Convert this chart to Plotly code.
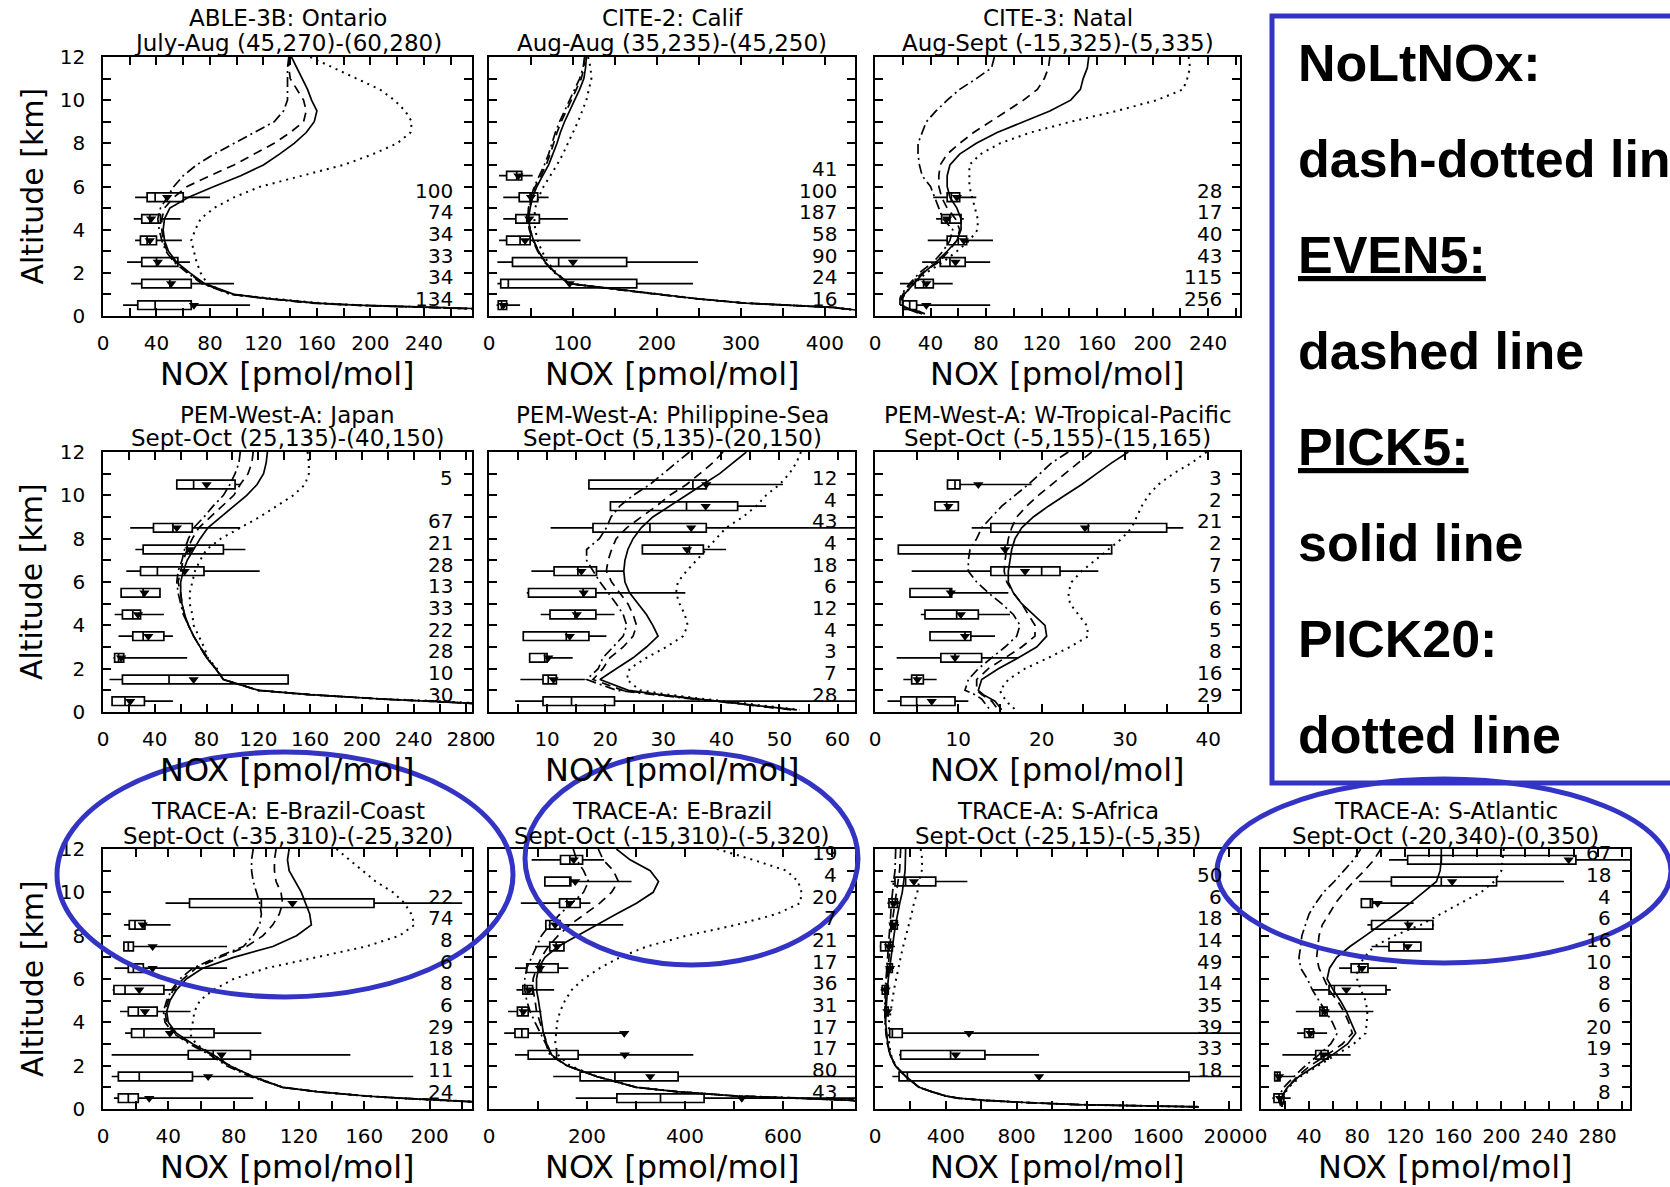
import plotly.graph_objects as go

W, H = 1670, 1187
FONT = "DejaVu Sans"
BLUE = "#3434C4"

# Model altitude levels (km), top to bottom
ALT_LEVELS = [12, 11.5, 11, 10.5, 10, 9.5, 9, 8.5, 8, 7.5, 7, 6.5, 6, 5.5, 5,
              4.5, 4, 3.5, 3, 2.5, 2, 1.5, 1, 0.8, 0.6, 0.5, 0.4, 0.3, 0.2, 0.1]

# ---------------- ABLE-3B: Ontario ----------------
ONT_NOLT = [139, 138, 138, 138, 138, 135, 128, 113, 98, 83, 70, 60, 53, 48, 43, 41, 42, 44, 47, 53, 63, 74, 96, 122, 156, 187, 246, 330, 350, 350]
ONT_EVEN5 = [139, 139, 140, 145, 150, 152, 150, 140, 128, 113, 98, 80, 63, 53, 46, 44, 44, 45, 48, 54, 64, 75, 97, 124, 158, 189, 248, 330, 350, 350]
ONT_PICK5 = [141, 145, 149, 153, 156, 160, 158, 152, 143, 132, 120, 103, 83, 64, 50, 46, 45, 46, 49, 55, 65, 76, 98, 125, 160, 190, 250, 330, 350, 350]
ONT_PICK20 = [155, 172, 190, 207, 218, 226, 231, 230, 220, 202, 180, 148, 118, 98, 83, 73, 69, 66, 68, 70, 73, 78, 95, 126, 162, 192, 252, 330, 350, 350]
ONT_BINS = [5.5, 4.5, 3.5, 2.5, 1.5, 0.5]
ONT_LO = [24, 23, 24, 18, 21, 15]
ONT_Q1 = [33, 29, 28, 29, 29, 26]
ONT_MED = [39, 35, 33, 40, 50, 39]
ONT_Q3 = [60, 43, 40, 56, 66, 66]
ONT_HI = [80, 58, 59, 65, 98, 110]
ONT_MEAN = [48, 36, 35, 41, 51, 68]
ONT_N = ["100", "74", "34", "33", "34", "134"]

# ---------------- CITE-2: Calif ----------------
CAL_NOLT = [114, 112, 108, 102, 96, 90, 84, 79, 75, 71, 66, 60, 54, 50, 47, 46, 48, 52, 58, 66, 78, 95, 198, 246, 303, 360, 408, 430, 450, 450]
CAL_EVEN5 = [114, 113, 110, 104, 98, 92, 86, 81, 77, 73, 68, 62, 55, 51, 48, 47, 49, 53, 59, 67, 79, 96, 200, 248, 305, 362, 410, 432, 450, 450]
CAL_PICK5 = [116, 115, 113, 108, 102, 96, 90, 85, 81, 76, 71, 64, 57, 52, 49, 47, 49, 53, 59, 67, 79, 96, 200, 248, 305, 362, 410, 432, 450, 450]
CAL_PICK20 = [118, 121, 122, 119, 116, 111, 106, 100, 94, 88, 81, 73, 65, 59, 55, 54, 55, 58, 63, 70, 80, 96, 200, 248, 305, 362, 410, 432, 450, 450]
CAL_BINS = [6.5, 5.5, 4.5, 3.5, 2.5, 1.5, 0.5]
CAL_LO = [12, 17, 17, 12, 10, 10, 9]
CAL_Q1 = [21, 36, 32, 21, 28, 14, 11]
CAL_MED = [33, 49, 45, 37, 83, 23, 15]
CAL_Q3 = [39, 58, 60, 49, 164, 176, 21]
CAL_HI = [52, 71, 94, 109, 249, 243, 37]
CAL_MEAN = [35, 50, 48, 43, 100, 96, 17]
CAL_N = ["41", "100", "187", "58", "90", "24", "16"]

# ---------------- CITE-3: Natal ----------------
NAT_NOLT = [86, 84, 73, 61, 52, 44, 37, 34, 31, 31, 32, 34, 40, 43, 46, 49, 56, 54, 49, 42, 32, 25, 19, 18, 18, 18, 20, 24, 29, 33]
NAT_EVEN5 = [126, 125, 122, 117, 107, 95, 83, 71, 61, 52, 47, 46, 46, 48, 52, 58, 61, 59, 53, 46, 34, 26, 20, 19, 19, 19, 21, 25, 30, 34]
NAT_PICK5 = [154, 153, 150, 148, 141, 126, 107, 88, 73, 61, 54, 52, 52, 54, 59, 62, 62, 59, 52, 44, 35, 28, 21, 20, 20, 20, 22, 26, 32, 36]
NAT_PICK20 = [226, 227, 225, 222, 203, 174, 141, 112, 90, 76, 68, 68, 68, 70, 72, 74, 74, 68, 59, 49, 37, 28, 21, 20, 20, 20, 22, 26, 32, 36]
NAT_BINS = [5.5, 4.5, 3.5, 2.5, 1.5, 0.5]
NAT_LO = [42, 44, 38, 34, 18, 18]
NAT_Q1 = [52, 48, 52, 47, 29, 20]
NAT_MED = [55, 54, 60, 54, 35, 25]
NAT_Q3 = [61, 62, 66, 65, 42, 30]
NAT_HI = [73, 64, 85, 83, 56, 83]
NAT_MEAN = [59, 52, 64, 58, 37, 37]
NAT_N = ["28", "17", "40", "43", "115", "256"]

# ---------------- PEM-West-A: Japan ----------------
JPN_NOLT = [106, 105, 102, 98, 93, 85, 78, 70, 66, 63, 61, 58, 57, 58, 60, 62, 66, 70, 75, 81, 87, 93, 120, 160, 215, 260, 300, 320, 330, 330]
JPN_EVEN5 = [116, 115, 112, 106, 101, 92, 83, 74, 69, 65, 62, 60, 58, 60, 61, 63, 66, 70, 75, 80, 87, 93, 120, 160, 215, 260, 300, 320, 330, 330]
JPN_PICK5 = [127, 126, 124, 119, 111, 101, 91, 81, 75, 70, 65, 62, 60, 60, 61, 63, 66, 70, 75, 80, 87, 93, 120, 160, 215, 260, 300, 320, 330, 330]
JPN_PICK20 = [158, 159, 159, 156, 147, 134, 121, 106, 91, 80, 75, 71, 69, 67, 67, 69, 70, 74, 78, 81, 88, 93, 120, 160, 215, 260, 300, 320, 330, 330]
JPN_BINS = [10.5, 8.5, 7.5, 6.5, 5.5, 4.5, 3.5, 2.5, 1.5, 0.5]
JPN_LO = [57, 21, 25, 18, 14, 9, 12, 8, 5, 7]
JPN_Q1 = [57, 39, 31, 29, 14, 15, 23, 9, 15, 7]
JPN_MED = [70, 54, 65, 42, 31, 23, 31, 12, 51, 17]
JPN_Q3 = [102, 69, 93, 78, 44, 29, 47, 16, 143, 32]
JPN_HI = [106, 106, 110, 121, 44, 47, 54, 65, 143, 54]
JPN_MEAN = [80, 57, 67, 63, 32, 27, 35, 14, 70, 21]
JPN_N = ["5", "67", "21", "28", "13", "33", "22", "28", "10", "30"]

# ---------------- PEM-West-A: Philippine-Sea ----------------
PHS_NOLT = [34.5, 32.2, 30, 27.7, 24.8, 22.5, 21, 20.2, 19, 16.8, 16.8, 17.9, 19.1, 20.5, 21.9, 23.1, 23.7, 23.1, 21.4, 19.6, 18.8, 16.8, 22, 28, 35, 39, 42, 45, 49, 52]
PHS_EVEN5 = [40.3, 38.5, 36.3, 34, 31.1, 28.8, 26.2, 23.7, 21.9, 21.1, 20.5, 20.2, 21.1, 22.5, 23.9, 24.8, 25.4, 24.8, 23.1, 20.8, 19.6, 17.9, 23, 29, 35.5, 39.5, 42.5, 45.5, 49.5, 52.5]
PHS_PICK5 = [44.3, 42, 39.7, 36.8, 34, 31.1, 28.2, 26.2, 24.8, 23.9, 23.4, 23.2, 23.4, 24.2, 25.7, 27.1, 28.2, 29.1, 27.1, 24.8, 21.9, 19.1, 24, 29.5, 36, 40, 43, 46, 50, 53]
PHS_PICK20 = [53.7, 52.9, 51.7, 50, 47.7, 46, 43.7, 40.8, 39.1, 37.4, 35.7, 34, 32.5, 32.2, 32.8, 33.7, 34.2, 33.4, 30.5, 27.1, 24.2, 23.7, 26, 31, 37, 41, 44, 47, 50.5, 53.5]
PHS_BINS = [10.5, 9.5, 8.5, 7.5, 6.5, 5.5, 4.5, 3.5, 2.5, 1.5, 0.5]
PHS_LO = [17.1, 20.8, 10.6, 26.4, 7.3, 6.5, 8.9, 5.9, 7.0, 5.4, 4.5]
PHS_Q1 = [17.2, 20.9, 17.9, 26.4, 11.2, 6.8, 10.5, 5.9, 7.0, 9.3, 9.3]
PHS_MED = [35.1, 34.0, 27.7, 34.5, 15.3, 16.2, 14.8, 13.3, 9.6, 10.2, 14.2]
PHS_Q3 = [37.4, 42.8, 37.4, 36.9, 18.5, 18.4, 18.4, 17.2, 10.0, 11.6, 21.6]
PHS_HI = [50.6, 47.7, 70, 40.8, 23.1, 33.8, 21.6, 20.2, 14.4, 16.5, 70]
PHS_MEAN = [37.4, 37.3, 34.8, 34.1, 15.9, 16.3, 15.1, 13.9, 10.2, 11.1, None]
PHS_N = ["12", "4", "43", "4", "18", "6", "12", "4", "3", "7", "28"]

# ---------------- PEM-West-A: W-Tropical-Pacific ----------------
WTP_NOLT = [23.2, 21.2, 19.8, 18.4, 16.8, 15.2, 14, 12.8, 12.2, 11.4, 11.2, 11.2, 12.2, 13.6, 15.2, 16.6, 17.4, 17, 15.6, 14, 12.4, 11.2, 10.8, 12, 12.8, 13, 13.2, 13.4, 13.6, 13.8]
WTP_EVEN5 = [26, 24.4, 22.8, 21.2, 19.6, 18.2, 17, 16.4, 16, 15.8, 15.6, 15.5, 15.8, 16.6, 17.6, 18.4, 19.2, 19.2, 17.6, 15.6, 13.6, 12.2, 12.2, 12.8, 13.6, 14, 14.2, 14.4, 14.6, 14.8]
WTP_PICK5 = [30.4, 28.4, 26.6, 24.8, 22.8, 20.8, 19, 17.6, 16.8, 16.4, 16.2, 16, 16, 16.6, 17.6, 19, 20.4, 20.6, 19.4, 17.2, 14.8, 12.8, 12.4, 13, 14, 14.4, 14.6, 14.8, 15, 15.2]
WTP_PICK20 = [39.8, 38, 35.8, 34, 32.8, 32, 31.4, 30.8, 29.6, 28, 26.4, 24.8, 23.6, 23.2, 23.4, 24.4, 25.4, 25.6, 23.4, 20.8, 18, 16, 15, 15.2, 15.6, 15.8, 16, 16.4, 16.6, 16.8]
WTP_BINS = [10.5, 9.5, 8.5, 7.5, 6.5, 5.5, 4.5, 3.5, 2.5, 1.5, 0.5]
WTP_LO = [8.7, 7.2, 11.6, 2.8, 4.4, 4.2, 5.5, 6.6, 2.6, 3.4, 1.5]
WTP_Q1 = [8.7, 7.2, 13.9, 2.8, 13.9, 4.2, 6.0, 6.6, 7.9, 4.4, 3.1]
WTP_MED = [9.6, 8.6, 25.6, 15.6, 20.0, 9.0, 9.8, 10.8, 9.6, 5.0, 5.0]
WTP_Q3 = [10.2, 10.0, 35.0, 28.4, 22.2, 9.2, 12.4, 11.5, 12.8, 5.8, 9.6]
WTP_HI = [18.8, 10.0, 37.0, 28.4, 26.8, 16.0, 16.2, 14.4, 17.2, 7.4, 11.2]
WTP_MEAN = [12.4, 8.8, 25.2, 15.6, 18.0, 9.1, 10.3, 10.8, 9.6, 5.1, 6.8]
WTP_N = ["3", "2", "21", "2", "7", "5", "6", "5", "8", "16", "29"]

# ---------------- TRACE-A: E-Brazil-Coast ----------------
EBC_NOLT = [92, 91, 91, 92, 94, 96, 97, 96, 92, 86, 69.5, 55, 47, 42, 39, 37, 38, 43, 53, 65.4, 75.6, 90, 110, 131, 161, 182, 212, 240, 260, 260]
EBC_EVEN5 = [106, 105, 105, 106, 109, 110, 108, 104, 98, 88, 71.6, 57, 49, 43, 40, 38, 39, 44, 54, 66.5, 77, 91, 110, 131, 161, 182, 212, 240, 260, 260]
EBC_PICK5 = [114, 113, 114, 118, 121.5, 124, 126.6, 127.6, 118.5, 104, 80, 61, 51, 45, 41, 39, 40, 45, 55, 67.5, 77.7, 92, 110, 131, 161, 182, 212, 240, 260, 260]
EBC_PICK20 = [143, 151, 159, 167, 177.6, 184.7, 188.8, 190.8, 181.6, 161, 130.7, 100, 80, 67.5, 59.3, 56, 55, 53, 57, 67.5, 77.7, 92, 110, 131, 161, 182, 212, 240, 260, 260]
EBC_BINS = [9.5, 8.5, 7.5, 6.5, 5.5, 4.5, 3.5, 2.5, 1.5, 0.5]
EBC_LO = [38.3, 12.8, 12.8, 7, 5.9, 10.4, 13.5, 5.3, 5.3, 6.7]
EBC_Q1 = [53, 16.1, 12.8, 15.5, 6.7, 15.5, 17.5, 52.2, 9.4, 9.4]
EBC_MED = [97, 19.6, 15.5, 18.6, 13.5, 21.6, 25.1, 67.5, 22.2, 15.5]
EBC_Q3 = [166, 25.7, 18.6, 24.7, 37.3, 33.2, 68, 90.3, 54.8, 21.6]
EBC_HI = [220, 41.4, 76, 76, 45, 53.6, 97, 151.5, 190, 92]
EBC_MEAN = [116, 24.3, 30.4, 30.4, 22.2, 25.7, 41, 72.6, 64.4, 28.3]
EBC_N = ["22", "74", "8", "6", "8", "6", "29", "18", "11", "24"]

# ---------------- TRACE-A: E-Brazil ----------------
EBR_NOLT = [172, 179, 193, 203, 193, 169, 145, 124, 107, 97, 87, 77, 73, 73, 77, 84, 94, 105, 116, 124, 159, 220, 301, 383, 505, 641, 743, 760, 800, 800]
EBR_EVEN5 = [223, 233, 254, 264, 250, 226, 196, 165, 141, 121, 107, 97, 90, 90, 94, 97, 104, 111, 118, 126, 159, 220, 301, 383, 505, 641, 743, 760, 800, 800]
EBR_PICK5 = [260, 288, 329, 346, 335, 301, 260, 220, 179, 141, 114, 101, 97, 97, 101, 104, 107, 111, 118, 128, 159, 220, 301, 383, 505, 641, 743, 760, 800, 800]
EBR_PICK20 = [465, 539, 607, 631, 638, 635, 587, 505, 403, 322, 267, 226, 193, 169, 155, 145, 139, 137, 135, 141, 165, 220, 301, 383, 505, 641, 743, 760, 800, 800]
EBR_BINS = [11.5, 10.5, 9.5, 8.5, 7.5, 6.5, 5.5, 4.5, 3.5, 2.5, 1.5, 0.5]
EBR_LO = [87, 114, 65, 116, 94, 53, 56, 39, 31, 53, 131, 177]
EBR_Q1 = [146, 114, 144, 116, 124, 77, 69, 58, 53, 80, 186, 261]
EBR_MED = [165, 165, 159, 124, 137, 107, 78, 67, 67, 138, 257, 350]
EBR_Q3 = [191, 167, 186, 145, 153, 141, 89, 80, 80, 182, 386, 439]
EBR_HI = [235, 291, 207, 274, 153, 162, 133, 107, 281, 417, 800, 800]
EBR_MEAN = [173, 176, 165, 135, 139, 104, 82, 70, 276, 277, 329, 516]
EBR_N = ["19", "4", "20", "7", "21", "17", "36", "31", "17", "17", "80", "43"]

# ---------------- TRACE-A: S-Africa ----------------
SAF_NOLT = [117, 115, 113, 105, 98, 93, 89, 84, 79, 74, 70, 65, 60, 58, 56, 56, 56, 62, 70, 85, 113, 173, 248, 318, 398, 468, 618, 848, 1148, 1828]
SAF_EVEN5 = [145, 142, 139, 130, 121, 111, 102, 95, 89, 84, 79, 74, 70, 65, 60, 59, 58, 64, 71, 86, 114, 174, 249, 319, 399, 469, 619, 849, 1149, 1829]
SAF_PICK5 = [173, 172, 170, 162, 154, 140, 126, 116, 107, 98, 89, 82, 75, 70, 64, 62, 60, 66, 72, 87, 115, 175, 250, 320, 400, 470, 620, 850, 1150, 1830]
SAF_PICK20 = [258, 267, 264, 249, 239, 220, 207, 190, 173, 159, 145, 131, 117, 107, 98, 89, 79, 78, 80, 90, 116, 175, 250, 320, 400, 470, 620, 850, 1150, 1830]
SAF_BINS = [10.5, 9.5, 8.5, 7.5, 6.5, 5.5, 4.5, 3.5, 2.5, 1.5]
SAF_LO = [89, 70, 79, 26, 60, 32, 51, 83, 136, 98]
SAF_Q1 = [113, 79, 89, 32, 70, 41, 56, 83, 145, 136]
SAF_MED = [173, 98, 98, 60, 83, 56, 64, 98, 427, 183]
SAF_Q3 = [343, 126, 126, 98, 98, 75, 75, 154, 621, 1774]
SAF_HI = [522, 136, 136, 113, 107, 79, 79, 2100, 927, 2100]
SAF_MEAN = [220, 107, 104, 79, 85, 60, 70, 531, 456, 927]
SAF_N = ["50", "6", "18", "14", "49", "14", "35", "39", "33", "18"]

# ---------------- TRACE-A: S-Atlantic ----------------
SAT_NOLT = [83, 77, 69, 61, 52, 45.5, 40, 37, 34, 33, 31.6, 33, 38.6, 42.7, 48.3, 54, 59.4, 63.5, 58, 48, 37, 27.5, 19, 17, 15.5, 15, 15.2, 15.6, 16, 16.4]
SAT_EVEN5 = [99.6, 94, 86, 77, 69, 62, 56.6, 51, 48.3, 47, 46.3, 48.3, 52.4, 56.6, 63.5, 69, 73, 76, 67.7, 55, 41, 30, 22, 19.5, 17.5, 16.6, 16.6, 16.8, 17, 17.2]
SAT_PICK5 = [150, 150, 149, 146, 135, 124, 112, 100, 87, 74, 63, 57, 55, 60, 66, 71, 74.6, 78.8, 72, 59.4, 45.5, 31.6, 22, 20, 18, 17, 17, 17.4, 17.5, 17.8]
SAT_PICK20 = [202, 201, 200, 194, 183, 166, 150, 133, 111, 94, 86, 80, 80, 83, 87, 88.5, 88, 87, 77, 62, 47, 33, 23, 20.5, 18.5, 17.8, 17.8, 18, 18.2, 18.4]
SAT_BINS = [11.5, 10.5, 9.5, 8.5, 7.5, 6.5, 5.5, 4.5, 3.5, 2.5, 1.5, 0.5]
SAT_LO = [106.5, 81.6, 83.5, 88.5, 92, 65, 42.7, 29, 30, 17.8, 10.8, 9.4]
SAT_Q1 = [122, 108.5, 83.5, 92, 106.5, 75, 56.6, 49, 36.3, 45.5, 11.4, 10.8]
SAT_MED = [150, 150, 91, 122, 119, 81.6, 61, 51, 40, 50, 13.6, 15]
SAT_Q3 = [262, 196, 92.7, 143, 133, 89, 104, 55, 43.6, 55.8, 15.8, 19]
SAT_HI = [320, 252, 127, 144, 133, 113, 108, 93.5, 55, 74.6, 27.5, 24.7]
SAT_MEAN = [256, 159, 97, 123, 122, 84, 71, 53, 41, 52, 15, 15.8]
SAT_N = ["67", "18", "4", "6", "16", "10", "8", "6", "20", "19", "3", "8"]

LEGEND_LINES = ["NoLtNOx:", "dash-dotted line", "EVEN5:", "dashed line",
                "PICK5:", "solid line", "PICK20:", "dotted line"]
LEGEND_UNDERLINED = {"EVEN5:", "PICK5:"}

# Panel layout in pixels: column x-extents and row y-extents
COL_X = [(103, 472), (489, 855), (875, 1240), (1261, 1630)]
ROW_Y = [(57, 316), (452, 712), (849, 1109)]

PANELS = [
    dict(t1="ABLE-3B: Ontario", t2="July-Aug (45,270)-(60,280)", row=0, col=0, xmax=276, dt=40, mdt=20,
         prof=(ONT_NOLT, ONT_EVEN5, ONT_PICK5, ONT_PICK20),
         box=(ONT_BINS, ONT_LO, ONT_Q1, ONT_MED, ONT_Q3, ONT_HI, ONT_MEAN, ONT_N)),
    dict(t1="CITE-2: Calif", t2="Aug-Aug (35,235)-(45,250)", row=0, col=1, xmax=436, dt=100, mdt=50,
         prof=(CAL_NOLT, CAL_EVEN5, CAL_PICK5, CAL_PICK20),
         box=(CAL_BINS, CAL_LO, CAL_Q1, CAL_MED, CAL_Q3, CAL_HI, CAL_MEAN, CAL_N)),
    dict(t1="CITE-3: Natal", t2="Aug-Sept (-15,325)-(5,335)", row=0, col=2, xmax=263, dt=40, mdt=20,
         prof=(NAT_NOLT, NAT_EVEN5, NAT_PICK5, NAT_PICK20),
         box=(NAT_BINS, NAT_LO, NAT_Q1, NAT_MED, NAT_Q3, NAT_HI, NAT_MEAN, NAT_N)),
    dict(t1="PEM-West-A: Japan", t2="Sept-Oct (25,135)-(40,150)", row=1, col=0, xmax=285, dt=40, mdt=20,
         prof=(JPN_NOLT, JPN_EVEN5, JPN_PICK5, JPN_PICK20),
         box=(JPN_BINS, JPN_LO, JPN_Q1, JPN_MED, JPN_Q3, JPN_HI, JPN_MEAN, JPN_N)),
    dict(t1="PEM-West-A: Philippine-Sea", t2="Sept-Oct (5,135)-(20,150)", row=1, col=1, xmax=63, dt=10, mdt=5,
         prof=(PHS_NOLT, PHS_EVEN5, PHS_PICK5, PHS_PICK20),
         box=(PHS_BINS, PHS_LO, PHS_Q1, PHS_MED, PHS_Q3, PHS_HI, PHS_MEAN, PHS_N)),
    dict(t1="PEM-West-A: W-Tropical-Pacific", t2="Sept-Oct (-5,155)-(15,165)", row=1, col=2, xmax=43.8, dt=10, mdt=5,
         prof=(WTP_NOLT, WTP_EVEN5, WTP_PICK5, WTP_PICK20),
         box=(WTP_BINS, WTP_LO, WTP_Q1, WTP_MED, WTP_Q3, WTP_HI, WTP_MEAN, WTP_N)),
    dict(t1="TRACE-A: E-Brazil-Coast", t2="Sept-Oct (-35,310)-(-25,320)", row=2, col=0, xmax=226, dt=40, mdt=20,
         prof=(EBC_NOLT, EBC_EVEN5, EBC_PICK5, EBC_PICK20),
         box=(EBC_BINS, EBC_LO, EBC_Q1, EBC_MED, EBC_Q3, EBC_HI, EBC_MEAN, EBC_N)),
    dict(t1="TRACE-A: E-Brazil", t2="Sept-Oct (-15,310)-(-5,320)", row=2, col=1, xmax=747, dt=200, mdt=100,
         prof=(EBR_NOLT, EBR_EVEN5, EBR_PICK5, EBR_PICK20),
         box=(EBR_BINS, EBR_LO, EBR_Q1, EBR_MED, EBR_Q3, EBR_HI, EBR_MEAN, EBR_N)),
    dict(t1="TRACE-A: S-Africa", t2="Sept-Oct (-25,15)-(-5,35)", row=2, col=2, xmax=2062, dt=400, mdt=200,
         prof=(SAF_NOLT, SAF_EVEN5, SAF_PICK5, SAF_PICK20),
         box=(SAF_BINS, SAF_LO, SAF_Q1, SAF_MED, SAF_Q3, SAF_HI, SAF_MEAN, SAF_N)),
    dict(t1="TRACE-A: S-Atlantic", t2="Sept-Oct (-20,340)-(0,350)", row=2, col=3, xmax=307, dt=40, mdt=20,
         prof=(SAT_NOLT, SAT_EVEN5, SAT_PICK5, SAT_PICK20),
         box=(SAT_BINS, SAT_LO, SAT_Q1, SAT_MED, SAT_Q3, SAT_HI, SAT_MEAN, SAT_N)),
]

# dash-dot (NoLtNOx), dashed (EVEN5), solid (PICK5), dotted (PICK20)
DASHES = ["10px,4px,2px,4px", "9px,6px", "solid", "2px,5px"]
WIDTHS = [1.7, 1.7, 1.7, 2.0]

TITLE_ROW_Y = [(18, 43), (415, 438), (811, 836)]


def px_x(px):
    return px / W


def px_y(py):
    return 1 - py / H


fig = go.Figure()
annotations = []
axis_style = dict(ticks="inside", ticklen=8, tickwidth=1.5, tickcolor="black",
                  showline=True, linecolor="black", linewidth=1.6, mirror="allticks",
                  showgrid=False, zeroline=False, fixedrange=True, automargin=False,
                  tickfont=dict(family=FONT, size=20, color="black"))

for i, p in enumerate(PANELS, start=1):
    xa = "x" if i == 1 else f"x{i}"
    ya = "y" if i == 1 else f"y{i}"
    xl, xr = COL_X[p["col"]]
    yt, yb = ROW_Y[p["row"]]

    fig.layout[f"xaxis{'' if i == 1 else i}"] = dict(
        axis_style, domain=[px_x(xl), px_x(xr)], range=[0, p["xmax"]], anchor=ya,
        tick0=0, dtick=p["dt"], ticklabelstandoff=8,
        minor=dict(dtick=p["mdt"], ticks="inside", ticklen=8, tickwidth=1.5, tickcolor="black", showgrid=False))
    fig.layout[f"yaxis{'' if i == 1 else i}"] = dict(
        axis_style, domain=[px_y(yb), px_y(yt)], range=[0, 12], anchor=xa, type="linear",
        tick0=0, dtick=2, showticklabels=(p["col"] == 0), ticklabelstandoff=12,
        minor=dict(dtick=1, ticks="inside", ticklen=8, tickwidth=1.5, tickcolor="black", showgrid=False))

    # model profiles
    for prof, dash, lw in zip(p["prof"], DASHES, WIDTHS):
        fig.add_trace(go.Scatter(x=prof, y=ALT_LEVELS, mode="lines", xaxis=xa, yaxis=ya,
                                 line=dict(color="black", width=lw, dash=dash),
                                 showlegend=False, hoverinfo="skip"))

    bins, lo, q1, med, q3, hi, mean, n = p["box"]
    # observed percentile boxes per 1-km altitude bin
    fig.add_trace(go.Box(y=bins, lowerfence=lo, q1=q1, median=med, q3=q3, upperfence=hi,
                         orientation="h", width=0.4, whiskerwidth=0, boxpoints=False,
                         line=dict(color="black", width=1.7), fillcolor="rgba(0,0,0,0)",
                         xaxis=xa, yaxis=ya, showlegend=False, hoverinfo="skip"))
    fig.add_trace(go.Scatter(x=mean, y=bins, mode="markers", xaxis=xa, yaxis=ya,
                             marker=dict(symbol="triangle-down", size=9, color="black"),
                             showlegend=False, hoverinfo="skip"))

    # number of observations in each bin
    for b, c in zip(bins, n):
        annotations.append(dict(text=c, x=0.955, xref=f"{xa} domain", y=b + 0.3, yref=ya,
                                xanchor="right", yanchor="middle", showarrow=False,
                                font=dict(family=FONT, size=20, color="black")))

    # two-line panel title
    cx = px_x((xl + xr) / 2)
    y1, y2 = TITLE_ROW_Y[p["row"]]
    for txt, yy in ((p["t1"], y1), (p["t2"], y2)):
        annotations.append(dict(text=txt, x=cx, y=px_y(yy), xref="paper", yref="paper",
                                xanchor="center", yanchor="middle", showarrow=False,
                                font=dict(family=FONT, size=23, color="black")))

    # axis titles
    annotations.append(dict(text="NOX [pmol/mol]", x=cx, y=px_y(yb + 58), xref="paper", yref="paper",
                            xanchor="center", yanchor="middle", showarrow=False,
                            font=dict(family=FONT, size=32, color="black")))
    if p["col"] == 0:
        annotations.append(dict(text="Altitude [km]", x=px_x(32), y=px_y((yt + yb) / 2),
                                xref="paper", yref="paper", textangle=-90,
                                xanchor="center", yanchor="middle", showarrow=False,
                                font=dict(family=FONT, size=30, color="black")))

# line-style key
shapes = [dict(type="rect", xref="paper", yref="paper", x0=px_x(1272), x1=1.05,
               y0=px_y(783), y1=px_y(16), line=dict(color=BLUE, width=5),
               fillcolor="white", layer="above")]
key_y = [63, 159, 255, 351, 447, 543, 639, 735]
for txt, yy in zip(LEGEND_LINES, key_y):
    font = dict(family="Liberation Sans", size=52, color="black")
    if txt in LEGEND_UNDERLINED:
        font["lineposition"] = "under"
    annotations.append(dict(text=f"<b>{txt}</b>", x=px_x(1296), y=px_y(yy), xref="paper", yref="paper",
                            xanchor="left", yanchor="middle", showarrow=False, font=font))

# highlight ellipses
for (x0, x1, y0, y1) in [(57, 513, 752, 997), (525, 858, 752, 965), (1217, 1671, 779, 963)]:
    shapes.append(dict(type="circle", xref="paper", yref="paper",
                       x0=px_x(x0), x1=px_x(x1), y0=px_y(y1), y1=px_y(y0),
                       line=dict(color=BLUE, width=5), layer="above"))

fig.update_layout(template="none", width=W, height=H, margin=dict(l=0, r=0, t=0, b=0, pad=0),
                  autosize=False, paper_bgcolor="white", plot_bgcolor="white",
                  showlegend=False, annotations=annotations, shapes=shapes)

fig.write_html("out.html", config={"displayModeBar": False})
